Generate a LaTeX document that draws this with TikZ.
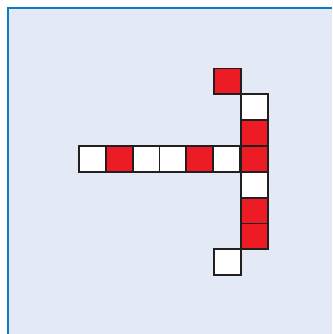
\documentclass[tikz,border=0pt]{standalone}
\usepackage{xcolor}
\usepackage{tikz}
\definecolor{bgblue}{HTML}{E3EAF6}
\definecolor{frameblue}{HTML}{0A7CC1}
\definecolor{cellred}{HTML}{ED1C24}
\definecolor{celledge}{HTML}{231F20}
\tikzset{cell/.style={draw=celledge,line width=1.8pt}}

\begin{document}
\begin{tikzpicture}[x=1pt,y=-1pt]
    \useasboundingbox (0,0) rectangle (332,334);
    \fill[bgblue] (8,8) rectangle (332,334);
    \draw[frameblue,line width=2.2pt] (8,334) -- (8,8) -- (332,8);
    % horizontal arm
    \foreach \i/\col in {0/white,1/cellred,2/white,3/white,4/cellred,5/white} {
      \draw[cell,fill=\col] (79+\i*26.8,146) rectangle ++(26.8,25.8);
    }
    % vertical arm
    \foreach \j/\col in {-2/white,-1/cellred,0/cellred,1/white,2/cellred,3/cellred} {
      \draw[cell,fill=\col] (240.8,146+\j*25.8) rectangle ++(26.8,25.8);
    }
    \draw[cell,fill=cellred] (214,68.6) rectangle ++(26.8,25.8);
    \draw[cell,fill=white] (214,249.2) rectangle ++(26.8,25.8);
  \end{tikzpicture}
\end{document}
